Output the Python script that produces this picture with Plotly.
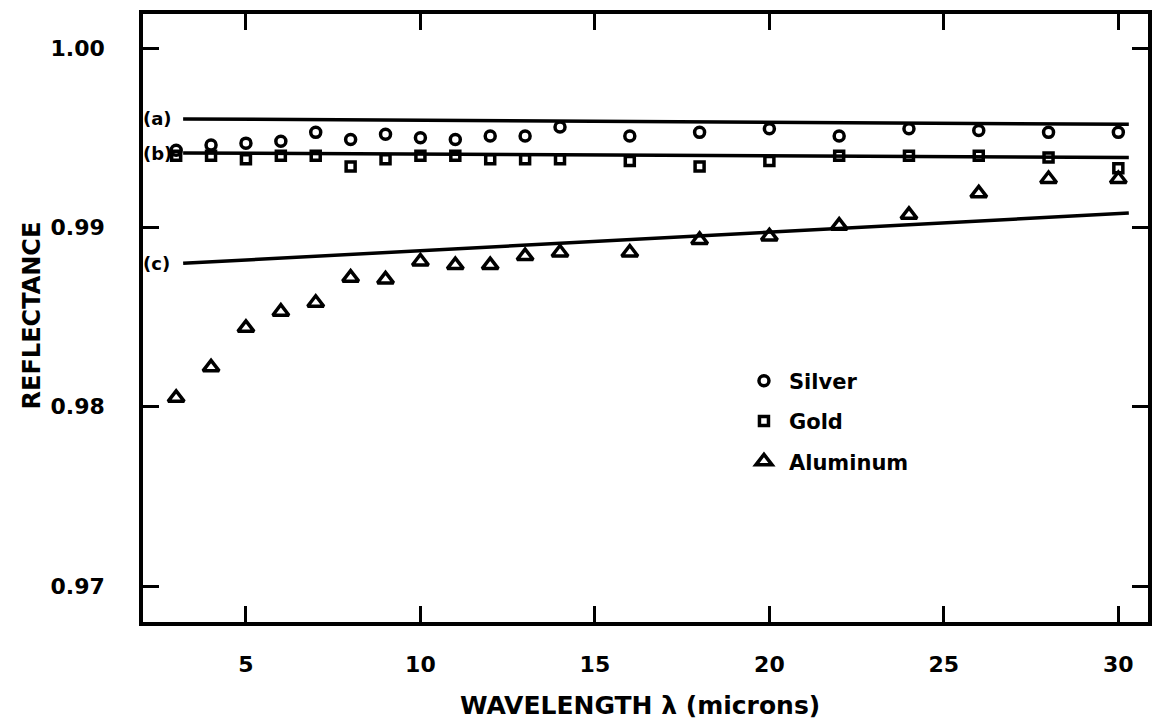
import plotly.graph_objects as go

# Wavelength of each measurement (microns)
wavelength = [3, 4, 5, 6, 7, 8, 9, 10, 11, 12, 13, 14, 16, 18, 20, 22, 24, 26, 28, 30]

# Measured reflectance
silver = [0.9943, 0.9946, 0.9947, 0.9948, 0.9953, 0.9949, 0.9952, 0.9950, 0.9949, 0.9951,
          0.9951, 0.9956, 0.9951, 0.9953, 0.9955, 0.9951, 0.9955, 0.9954, 0.9953, 0.9953]
gold = [0.9940, 0.9940, 0.9938, 0.9940, 0.9940, 0.9934, 0.9938, 0.9940, 0.9940, 0.9938,
        0.9938, 0.9938, 0.9937, 0.9934, 0.9937, 0.9940, 0.9940, 0.9940, 0.9939, 0.9933]
aluminum = [0.9805, 0.9822, 0.9844, 0.9853, 0.9858, 0.9872, 0.9871, 0.9881, 0.9879, 0.9879,
            0.9884, 0.9886, 0.9886, 0.9893, 0.9895, 0.9901, 0.9907, 0.9919, 0.9927, 0.9927]

# Calculated reflectance curves (a), (b), (c)
curve_x = [3.2, 30.3]
curve_a = [0.99605, 0.99575]
curve_b = [0.99415, 0.99390]
curve_c = [0.98800, 0.99080]
curve_names = ["(a)", "(b)", "(c)"]

x_ticks = [5, 10, 15, 20, 25, 30]
y_ticks = [0.97, 0.98, 0.99, 1.00]
y_tick_text = ["0.97", "0.98", "0.99", "1.00"]

FONT = "DejaVu Sans"
INK = "black"
X_RANGE = [2.05, 30.85]

fig = go.Figure()

for cy in (curve_a, curve_b, curve_c):
    fig.add_trace(go.Scatter(x=curve_x, y=cy, mode="lines",
                             line=dict(color=INK, width=3.5),
                             showlegend=False, hoverinfo="skip"))

series = [
    ("Silver", silver, "circle-open", 10),
    ("Gold", gold, "square-open", 9),
    ("Aluminum", aluminum, "triangle-up-open", 14),
]
for i, (name, vals, sym, size) in enumerate(series):
    fig.add_trace(go.Scatter(
        x=wavelength, y=vals, mode="markers", name=name,
        legendgroup=f"g{i}",
        marker=dict(symbol=sym, size=size, color=INK, line=dict(color=INK, width=3.5)),
    ))

# Curve labels at the left edge of the frame
for name, cy in zip(curve_names, (curve_a, curve_b, curve_c)):
    fig.add_annotation(x=X_RANGE[0], y=cy[0], xref="x", yref="y", text=name,
                       showarrow=False, xanchor="left", yanchor="middle", xshift=-2,
                       font=dict(family=FONT, size=18, color=INK, weight="bold"))

fig.add_annotation(x=-0.11, y=0.505, xref="paper", yref="paper", text="REFLECTANCE",
                   textangle=-90, showarrow=False, xanchor="center", yanchor="middle",
                   font=dict(family=FONT, size=24, color=INK, weight="bold"))
fig.add_annotation(x=0.4945, y=-0.137, xref="paper", yref="paper",
                   text="WAVELENGTH λ (microns)", showarrow=False,
                   xanchor="center", yanchor="middle",
                   font=dict(family=FONT, size=25, color=INK, weight="bold"))

axis_common = dict(
    showline=True, linecolor=INK, linewidth=3.5, mirror="ticks",
    ticks="inside", ticklen=16, tickwidth=3, tickcolor=INK,
    showgrid=False, zeroline=False,
    tickfont=dict(family=FONT, size=22, color=INK, weight="bold"),
)

fig.update_xaxes(range=X_RANGE, tickvals=x_ticks, ticklabelstandoff=20, **axis_common)
fig.update_yaxes(range=[0.9680, 1.0019], tickvals=y_ticks, ticktext=y_tick_text,
                 ticklabelstandoff=30, **axis_common)

fig.update_layout(
    width=1155, height=725,
    margin=dict(l=143, r=3, t=14, b=103),
    paper_bgcolor="white", plot_bgcolor="white",
    font=dict(family=FONT, color=INK),
    showlegend=True,
    legend=dict(x=0.593, y=0.43, xanchor="left", yanchor="top",
                bgcolor="rgba(0,0,0,0)", borderwidth=0, tracegroupgap=10,
                itemsizing="trace", itemwidth=40,
                font=dict(family=FONT, size=21, color=INK, weight="bold")),
)

fig.write_html("out.html")
